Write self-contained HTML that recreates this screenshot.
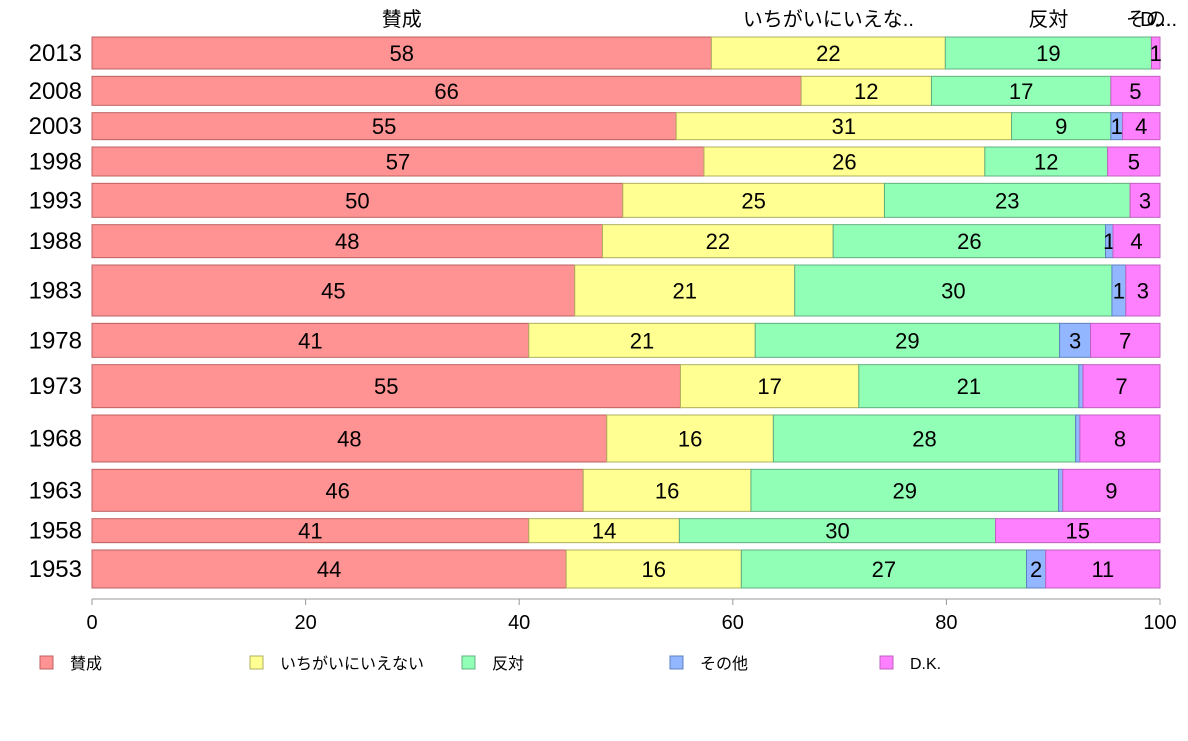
<!DOCTYPE html>
<html><head><meta charset="utf-8"><style>
body{margin:0;background:#fff;}
svg text{font-family:"Liberation Sans","Noto Sans CJK JP",sans-serif;}
</style></head><body>
<svg id="chart" width="1188" height="736" xmlns="http://www.w3.org/2000/svg"></svg>
<script>
const years=["2013","2008","2003","1998","1993","1988","1983","1978","1973","1968","1963","1958","1953"];
const weights=[32,29,27,29,34,33,51,34,43,47,42,24,38];
const agree=[58,66.4,54.7,57.3,49.7,47.8,45.2,40.9,55.1,48.2,46,40.9,44.4];
const neutral=[21.9,12.2,31.4,26.3,24.5,21.6,20.6,21.2,16.7,15.6,15.7,14.1,16.4];
const oppose=[19.3,16.8,9.3,11.5,23,25.5,29.7,28.5,20.6,28.3,28.8,29.6,26.7];
const other=[0,0,1.1,0,0,0.7,1.3,2.9,0.4,0.4,0.4,0,1.8];
const dk=[0.8,4.6,3.5,4.9,2.8,4.4,3.2,6.5,7.2,7.5,9.1,15.4,10.7];
const seriesNames=["賛成","いちがいにいえない","反対","その他","D.K."];
const headerNames=["賛成","いちがいにいえな..","反対","その..","D..."];
const xTicks=[0,20,40,60,80,100];
const colors=["#FF9292","#FFFF92","#92FFB6","#92B6FF","#FF80FF"];
const strokes=["#c06060","#b0b060","#60b080","#6080c0","#c060c0"];
const series=[agree,neutral,oppose,other,dk];
const svg=document.getElementById('chart');
const NS="http://www.w3.org/2000/svg";
const X0=92,X1=1160,Y0=37,Y1=588;
const x=v=>X0+(X1-X0)*v/100;
const totalW=weights.reduce((a,b)=>a+b,0);
const gap=(Y1-Y0-totalW)/(years.length-1);
function mk(t,a){const e=document.createElementNS(NS,t);for(const k in a)e.setAttribute(k,a[k]);svg.appendChild(e);return e;}
let y=Y0;
years.forEach((yr,i)=>{
  const h=weights[i];
  const lab=mk('text',{x:82,y:y+h/2+8,'text-anchor':'end','font-size':24,fill:'#000'});
  lab.textContent=yr;
  
  
  let cum=0;
  series.forEach((s,j)=>{
    const v=s[i];
    if(v>0){
      const r=mk('rect',{x:x(cum),y:y,width:x(cum+v)-x(cum),height:h,fill:colors[j],stroke:strokes[j],'stroke-width':1});
      
      
      if(Math.round(v)>=1){
        const t=mk('text',{x:(x(cum)+x(cum+v))/2,y:y+h/2+8,'text-anchor':'middle','font-size':22,fill:'#000'});
        t.textContent=Math.round(v);
        
        
      }
    }
    cum+=v;
  });
  y+=h+gap;
});
// headers centered on first bar segments
let c=0;
series.forEach((s,j)=>{
  const v=s[0];
  const t=mk('text',{x:(x(c)+x(c+v))/2,y:26,'text-anchor':'middle','font-size':20,fill:'#000'});
  t.textContent=headerNames[j];
  
  
  c+=v;
});
// axis
const ax=mk('line',{x1:X0,y1:599,x2:X1,y2:599,stroke:'#999'});


xTicks.forEach(tv=>{
  const l=mk('line',{x1:x(tv),y1:599,x2:x(tv),y2:605,stroke:'#999'});
  
  
  const t=mk('text',{x:x(tv),y:629,'text-anchor':'middle','font-size':20,fill:'#000'});
  t.textContent=tv;
  
  
});
// legend
const legX=[40,250,462,670,880];
seriesNames.forEach((n,j)=>{
  const r=mk('rect',{x:legX[j],y:656,width:13,height:13,fill:colors[j],stroke:strokes[j]});
  
  
  const t=mk('text',{x:legX[j]+30,y:669,'font-size':16,fill:'#000'});
  t.textContent=n;
  
  
});
</script>
</body></html>
